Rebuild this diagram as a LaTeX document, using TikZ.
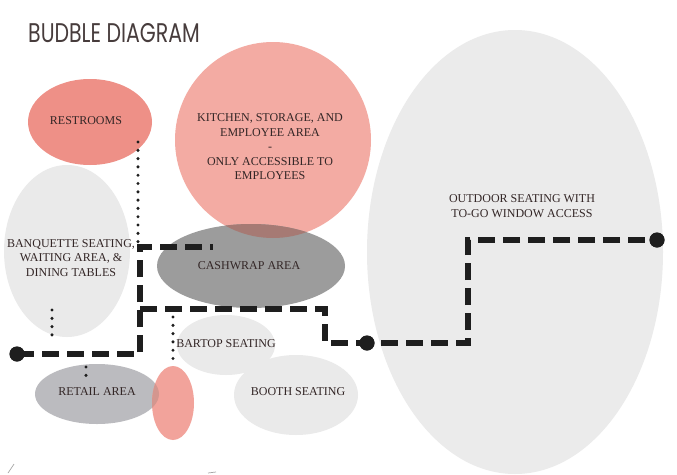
\documentclass[tikz,border=0pt]{standalone}
\usepackage{fontspec}
\setmainfont{Liberation Serif}
\newfontfamily\titlefont{Poppins}
\usetikzlibrary{shapes.geometric}
\definecolor{rest}{HTML}{EE9087}
\definecolor{kitch}{HTML}{F3ABA3}
\definecolor{cash}{HTML}{9C9C9C}
\definecolor{ovkc}{HTML}{A67A74}
\definecolor{lightg}{HTML}{EAEAEA}
\definecolor{outg}{HTML}{EBEBEB}
\definecolor{retail}{HTML}{BBBBBF}
\definecolor{smsal}{HTML}{F2A39B}
\definecolor{ovrs}{HTML}{D4968F}
\definecolor{txt}{HTML}{332626}
\definecolor{ink}{HTML}{1E1E1E}
\begin{document}
\begin{tikzpicture}[x=1pt,y=-1pt,
  bubble/.style={ellipse, inner sep=0pt, draw=none},
  lbl/.style={font=\fontsize{12}{14.5}\selectfont, text=txt, align=center, inner sep=0pt},
  route/.style={line width=5.5pt, dash pattern=on 17pt off 8pt, draw=ink},
  dotline/.style={line width=3.4pt, line cap=round, dash pattern=on 0pt off 8.3pt, draw=ink},
  endpt/.style={circle, fill=ink, minimum size=15pt, inner sep=0pt}]
\useasboundingbox (0,0) rectangle (677,474);
\fill[white] (0,0) rectangle (677,474);

% bubbles
\node[bubble, fill=outg, minimum width=296pt, minimum height=444pt] (outdoor) at (515,252) {};
\node[bubble, fill=kitch, minimum width=196pt, minimum height=196pt] (kitchen) at (273,140) {};
\node[bubble, fill=cash, minimum width=188pt, minimum height=84pt] (cashwrap) at (251,266) {};
\begin{scope}
  \clip (273,140) circle [radius=98pt];
  \fill[ovkc] (251,266) ellipse [x radius=94pt, y radius=42pt];
\end{scope}
\node[bubble, fill=rest, minimum width=124pt, minimum height=86pt] (restrooms) at (90,122) {};
\node[bubble, fill=lightg, minimum width=126pt, minimum height=172pt] (banquette) at (67,251) {};
\node[bubble, fill=lightg, minimum width=98pt, minimum height=60pt] (bartop) at (226,345) {};
\node[bubble, fill=lightg, minimum width=124pt, minimum height=80pt] (booth) at (296,395) {};
\node[bubble, fill=retail, minimum width=124pt, minimum height=60pt] (retail) at (97,394) {};
\node[bubble, fill=smsal, minimum width=42pt, minimum height=74pt] (small) at (173,403) {};
\begin{scope}
  \clip (173,403) ellipse [x radius=21pt, y radius=37pt];
  \fill[ovrs] (97,394) ellipse [x radius=62pt, y radius=30pt];
\end{scope}

% labels
\node[anchor=west, inner sep=0pt] (title) at (28,33) {\scalebox{0.76}[1]{\titlefont\fontsize{27}{27}\selectfont\color{txt!90}BUDBLE DIAGRAM}};
\node[lbl] (lrest) at (86,121) {RESTROOMS};
\node[lbl] (lkitch) at (270,147) {KITCHEN, STORAGE, AND\\EMPLOYEE AREA\\-\\ONLY ACCESSIBLE TO\\EMPLOYEES};
\node[lbl] (lbanq) at (71,258) {BANQUETTE SEATING,\\WAITING AREA, \&\\DINING TABLES};
\node[lbl] (lcash) at (249,266) {CASHWRAP AREA};
\node[lbl] (lbar) at (226,344) {BARTOP SEATING};
\node[lbl] (lret) at (97,392) {RETAIL AREA};
\node[lbl] (lbooth) at (298,392) {BOOTH SEATING};
\node[lbl] (lout) at (522,206) {OUTDOOR SEATING WITH\\TO-GO WINDOW ACCESS};

% route coordinates
\coordinate (a1) at (140,354);
\coordinate (a2) at (140,247);
\coordinate (a3) at (213,247);
\coordinate (b0) at (140,309);
\coordinate (b1) at (325,309);
\coordinate (b2) at (325,343);
\coordinate (b3) at (468,343);
\coordinate (b4) at (468,240);
\node[endpt] (d1) at (17,354) {};
\node[endpt] (d2) at (367,343) {};
\node[endpt] (d3) at (657,240) {};

\draw[route] (d1.center) -- (a1) -- (a2) -- (a3);
\draw[route] (b0) -- (b1) -- (b2) -- (d2.center) -- (b3) -- (b4) -- (d3.center);
\node[endpt] at (d1) {};
\node[endpt] at (d2) {};
\node[endpt] at (d3) {};

% dotted links
\coordinate (r1) at (138,142);
\coordinate (r2) at (138,242);
\draw[dotline] (r1) -- (r2);
\coordinate (q1) at (52,310);
\coordinate (q2) at (52,343);
\draw[dotline] (q1) -- (q2);
\coordinate (p1) at (86,367);
\coordinate (p2) at (86,380);
\draw[dotline] (p1) -- (p2);
\coordinate (s1) at (173,317);
\coordinate (s2) at (173,364);
\draw[dotline] (s1) -- (s2);

% stray marks at bottom edge
\coordinate (m1) at (8,473);
\coordinate (m2) at (14,464);
\draw[gray!70, line width=0.7pt] (m1) -- (m2);
\coordinate (m3) at (208,473);
\coordinate (m4) at (216,472);
\draw[gray!70, line width=0.7pt] (m3) -- (m4);
\end{tikzpicture}
\end{document}
